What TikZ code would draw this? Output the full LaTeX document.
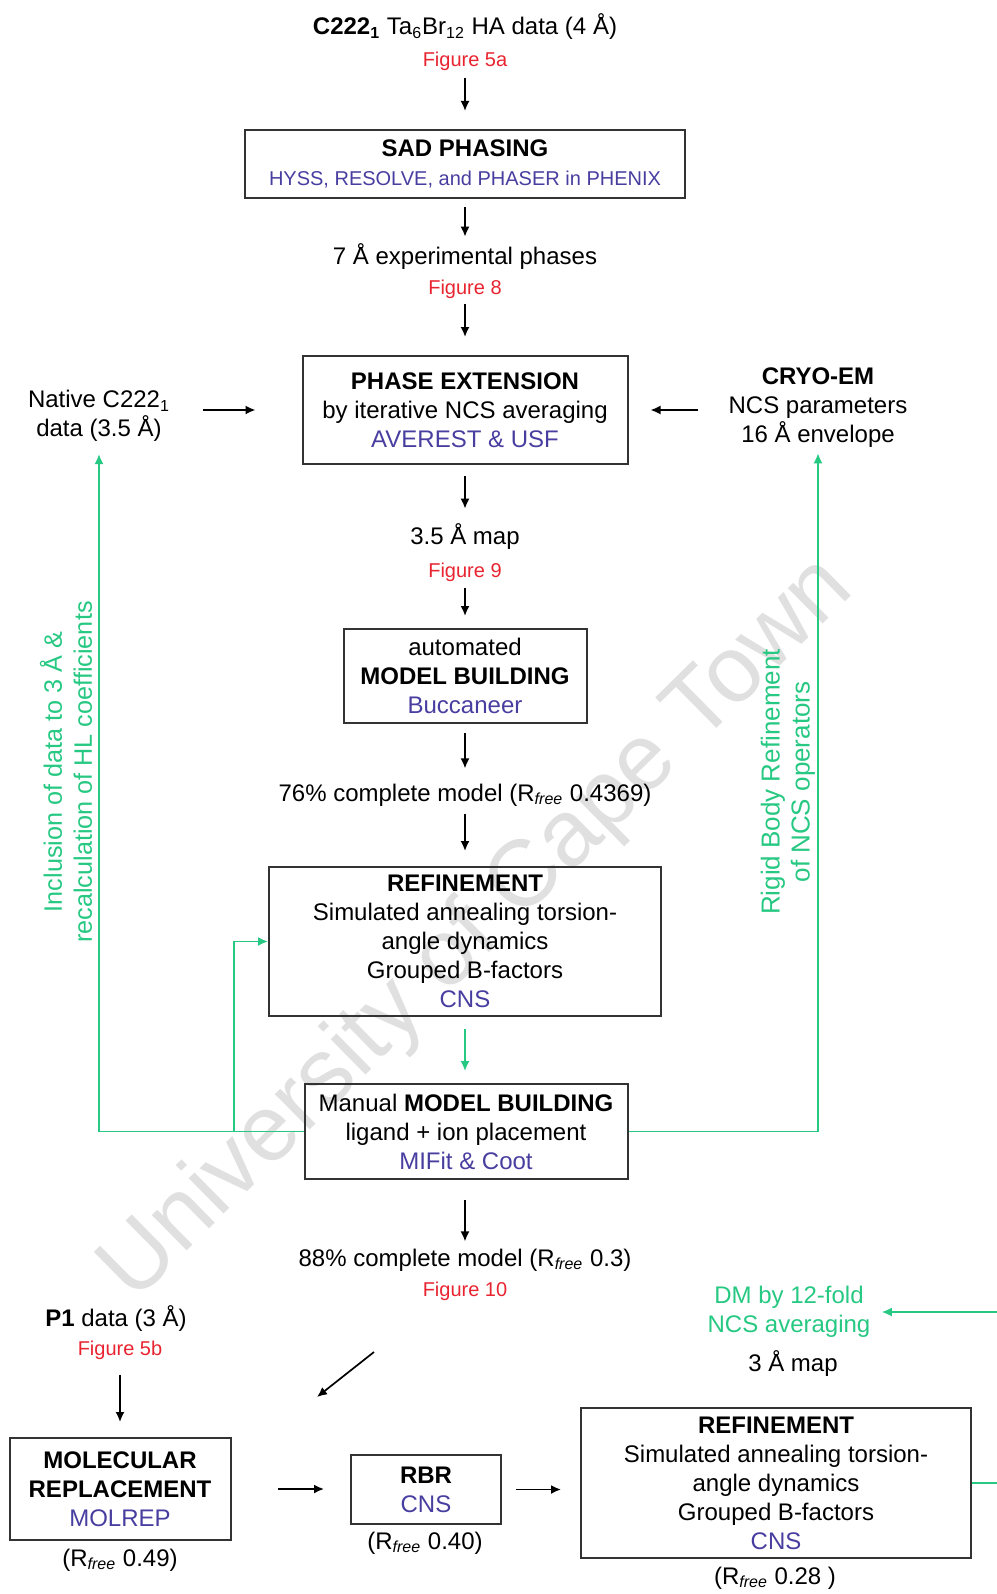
\documentclass[tikz,border=0pt]{standalone}
\usepackage{fontspec}
\setmainfont{Liberation Sans}
\usetikzlibrary{arrows.meta}
\definecolor{figred}{RGB}{232,36,48}
\definecolor{progblue}{RGB}{72,62,160}
\definecolor{loopgreen}{RGB}{38,200,130}
\newcommand{\rfree}{R\textsubscript{\textit{free}}}
\newcommand{\prog}[1]{{\color{progblue}#1}}

\begin{document}
\begin{tikzpicture}[x=0.5pt, y=-0.5pt,
  every node/.style={font=\fontsize{12}{14.5}\selectfont, inner sep=0pt},
  box/.style={draw=black!80, line width=1pt, align=center},
  figref/.style={text=figred, font=\fontsize{10}{12}\selectfont},
  arr/.style={-{Latex[length=5pt,width=4.5pt]}, line width=0.85pt},
  garr/.style={arr, draw=loopgreen},
  gtext/.style={text=loopgreen, align=center}]
\useasboundingbox (0,0) rectangle (996,1594);

\node[rotate=44.6, text=black!12, font=\fontsize{47}{50}\selectfont] (wmark) at (478,930) {University of Cape Town};

\node (title) at (465,27) {\textbf{C222\textsubscript{1}} Ta\textsubscript{6}Br\textsubscript{12} HA data (4 Å)};
\node[figref] (fig5a) at (465,61) {Figure 5a};
\node[box, minimum width=220pt, minimum height=34pt] (sad) at (465,164) {\textbf{SAD PHASING}\\{\fontsize{10}{12}\selectfont\prog{HYSS, RESOLVE, and PHASER in PHENIX}}};
\node (phases7) at (465,257) {7 Å experimental phases};
\node[figref] (fig8) at (465,289) {Figure 8};
\node[box, minimum width=162.5pt, minimum height=54pt] (phext) at (465,410) {\textbf{PHASE EXTENSION}\\by iterative NCS averaging\\\prog{AVEREST \& USF}};
\node[align=center] (native) at (99,416) {Native C222\textsubscript{1}\\data (3.5 Å)};
\node[align=center] (cryo) at (818,408) {\textbf{CRYO-EM}\\NCS parameters\\16 Å envelope};
\node (map35) at (465,537) {3.5 Å map};
\node[figref] (fig9) at (465,572) {Figure 9};
\node[box, minimum width=121.5pt, minimum height=47pt] (autob) at (465,676) {automated\\\textbf{MODEL BUILDING}\\\prog{Buccaneer}};
\node (model76) at (465,795) {76\% complete model (\rfree{} 0.4369)};
\node[box, minimum width=196pt, minimum height=74.5pt] (refine) at (465,941.5) {\textbf{REFINEMENT}\\Simulated annealing torsion-\\angle dynamics\\Grouped B-factors\\\prog{CNS}};
\node[box, minimum width=161.5pt, minimum height=47.5pt] (manual) at (466,1131.5) {Manual \textbf{MODEL BUILDING}\\ligand + ion placement\\\prog{MIFit \& Coot}};
\node (model88) at (465,1260) {88\% complete model (\rfree{} 0.3)};
\node[figref] (fig10) at (465,1291) {Figure 10};

\node[gtext, rotate=90, font=\fontsize{12.6}{15}\selectfont] (hllabel) at (66,772) {Inclusion of data to 3 Å \&\\recalculation of HL coefficients};
\node[gtext, rotate=90, font=\fontsize{13}{15}\selectfont] (rbrlabel) at (788,782) {Rigid Body Refinement\\of NCS operators};

\node (p1) at (116,1318) {\textbf{P1} data (3 Å)};
\node[figref] (fig5b) at (120,1350) {Figure 5b};
\node[box, minimum width=110.5pt, minimum height=51pt] (molrep) at (120,1489) {\textbf{MOLECULAR}\\\textbf{REPLACEMENT}\\\prog{MOLREP}};
\node (rfree049) at (120,1560) {(\rfree{} 0.49)};
\node[box, minimum width=75pt, minimum height=34.5pt] (rbr) at (426,1489.5) {\textbf{RBR}\\\prog{CNS}};
\node (rfree040) at (425,1543) {(\rfree{} 0.40)};
\node[box, minimum width=195pt, minimum height=75pt] (refine2) at (776,1483) {\textbf{REFINEMENT}\\Simulated annealing torsion-\\angle dynamics\\Grouped B-factors\\\prog{CNS}};
\node (rfree028) at (775,1578) {(\rfree{} 0.28 )};
\node[gtext] (dm) at (789,1312) {DM by 12-fold\\NCS averaging};
\node (map3) at (793,1364) {3 Å map};

\draw[arr, shorten <=3.5pt, shorten >=9pt] (fig5a) -- (sad);
\draw[arr, shorten <=4pt, shorten >=3.5pt] (sad) -- (phases7);
\draw[arr, shorten <=2.5pt, shorten >=9pt] (fig8) -- (phext);
\draw[arr, shorten <=5.5pt, shorten >=7.5pt] (phext) -- (map35);
\draw[arr, shorten <=3pt, shorten >=6pt] (fig9) -- (autob);
\draw[arr, shorten <=4.5pt, shorten >=7.5pt] (autob) -- (model76);
\draw[arr, shorten <=3.5pt, shorten >=7.5pt] (model76) -- (refine);
\draw[arr, shorten <=10pt, shorten >=3.5pt] (manual.south -| model88) -- (model88);
\draw[arr, shorten <=16.5pt, shorten >=23pt] (native.east |- phext.west) -- (phext.west);
\draw[arr, shorten <=15pt, shorten >=11pt] (cryo.west |- phext.east) -- (phext.east);
\draw[arr, shorten <=7.5pt, shorten >=7.5pt] (fig5b) -- (molrep);
\coordinate (dtail) at (374,1352);
\coordinate (dhead) at (317,1397);
\draw[arr] (dtail) -- (dhead);
\draw[arr, shorten <=23pt, shorten >=13pt] (molrep.east) -- (molrep.east -| rbr.west);
\draw[arr, shorten <=7pt, shorten >=9.5pt] (rbr.east) -- (rbr.east -| refine2.west);

\draw[garr, shorten <=6pt, shorten >=6pt] (refine) -- (manual.north -| refine);
\draw[garr, shorten >=6pt] (manual.west) -| (native.south);
\coordinate (gsplit) at (234,1131.5);
\draw[garr] (gsplit) |- (refine.west);
\draw[garr, shorten >=2.5pt] (manual.east) -| (cryo.south);
\draw[garr, shorten >=5.5pt] (refine2.east) -- ++(60,0) |- (dm.east);
\end{tikzpicture}
\end{document}
